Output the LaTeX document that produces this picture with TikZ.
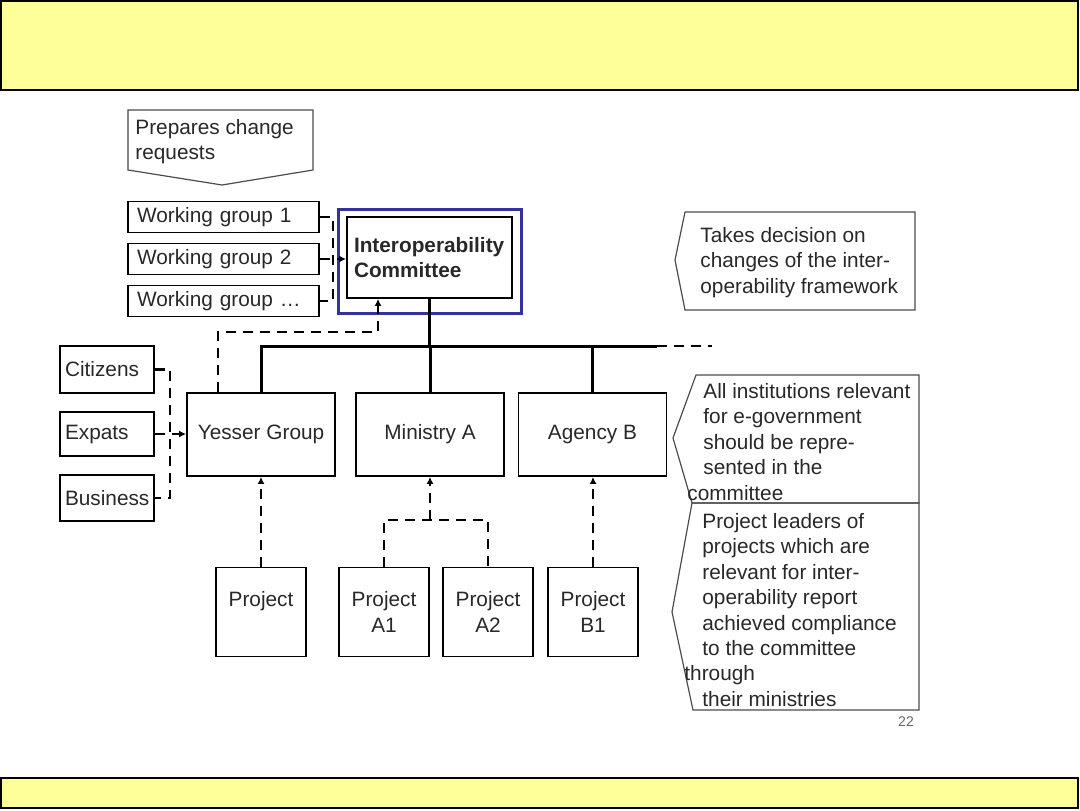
\documentclass[tikz,border=0pt]{standalone}
\usepackage{fontspec}
\setmainfont{Liberation Sans}
\usepackage{tikz}
\usetikzlibrary{arrows.meta,positioning,calc}
\definecolor{barfill}{RGB}{255,255,153}
\definecolor{hlblue}{RGB}{51,51,153}
\definecolor{txtgrey}{RGB}{40,40,40}
\tikzset{
  box/.style={draw, line width=0.9pt, inner sep=0pt, align=center},
  lbox/.style={draw, line width=0.9pt, inner ysep=0pt, align=left},
  orgline/.style={line width=1.5pt},
  dashline/.style={line width=1.4pt, dash pattern=on 5pt off 3.5pt},
  dasharrow/.style={dashline, -{Latex[length=3.5pt,width=3.5pt]}},
  callout/.style={draw=black!70, line width=0.6pt},
  note/.style={anchor=north west, inner sep=0pt, align=left}
}

\begin{document}
\begin{tikzpicture}[x=0.5pt, y=-0.5pt, every node/.style={font=\fontsize{10.4}{12.7}\selectfont, text=txtgrey}]
    \useasboundingbox (0,0) rectangle (1080,810);
    \draw[fill=barfill, line width=1pt] (1,1) rectangle (1078,90);
    \draw[fill=barfill, line width=1pt] (1,778) rectangle (1078,808);

    \draw[callout] (128,110) -- (313,110) -- (313,170) -- (222,185) -- (128,170) -- cycle;
    \node[note] (prep) at (135,119) {Prepares change\\requests};

    \node[lbox, inner xsep=4.5pt, text width=86.5pt, minimum height=15.5pt] (wg1) at (223.5,217) {Working group 1};
    \node[lbox, inner xsep=4.5pt, text width=86.5pt, minimum height=15.5pt] (wg2) at (223.5,259) {Working group 2};
    \node[lbox, inner xsep=4.5pt, text width=86.5pt, minimum height=15.5pt] (wg3) at (223.5,301) {Working group …};

    \node[lbox, inner xsep=3.5pt, text width=75.5pt, minimum height=40.5pt,
          font=\fontsize{10.4}{12.7}\selectfont\bfseries] (ic) at (429.5,257.5) {Interoperability\\Committee};
    \draw[hlblue, line width=1.5pt] (338,209) rectangle (521,313);

    \node[lbox, inner xsep=2.5pt, text width=42pt, minimum height=23.5pt] (cit) at (107,369.5) {Citizens};
    \node[lbox, inner xsep=2.5pt, text width=42pt, minimum height=22pt] (exp) at (107,434) {Expats};
    \node[lbox, inner xsep=2.5pt, text width=42pt, minimum height=23pt] (biz) at (107,498) {Business};

    \node[box, minimum width=74pt, minimum height=41.5pt] (yes) at (261,434.5) {Yesser Group};
    \node[box, minimum width=74pt, minimum height=41.5pt] (min) at (430,434.5) {Ministry A};
    \node[box, minimum width=74pt, minimum height=41.5pt] (agy) at (592.5,434.5) {Agency B};

    \node[box, minimum width=45pt, minimum height=44.5pt] (prj) at (261,612) {Project\\\mbox{}};
    \node[box, minimum width=45pt, minimum height=44.5pt] (pa1) at (384,612) {Project\\A1};
    \node[box, minimum width=45pt, minimum height=44.5pt] (pa2) at (488,612) {Project\\A2};
    \node[box, minimum width=45pt, minimum height=44.5pt] (pb1) at (593,612) {Project\\B1};

    \coordinate (wgj) at (333,259);
    \coordinate (stj) at (170,434);
    \coordinate (busL) at (261,346);
    \coordinate (busR) at (657,346);
    \coordinate (busE) at (712,346);
    \coordinate (yj) at (378,332);
    \coordinate (aj) at (430,520);

    \draw[dashline] (wg1.east) -| (wgj) |- (wg3.east);
    \draw[dasharrow] (wg2.east) -- (wg2.east -| ic.west);
    \draw[dashline] (cit.east) -| (stj) |- (biz.east);
    \draw[dasharrow] (exp.east) -- (exp.east -| yes.west);

    \draw[orgline] (ic.south) -- (ic.south |- busL);
    \draw[orgline] (yes.north) -- (busL) -- (busR);
    \draw[orgline] (min.north) -- (min.north |- busL);
    \draw[orgline] (agy.north) -- (agy.north |- busL);
    \draw[dashline] (busR) -- (busE);
    \draw[dasharrow] ([xshift=-21.5pt]yes.north) |- (yj) -- (yj |- ic.south);

    \draw[dasharrow] (prj.north) -- (yes.south);
    \draw[dashline] (pa1.north) |- (aj) -| (pa2.north);
    \draw[dasharrow] (aj) -- (min.south);
    \draw[dasharrow] (pb1.north) -- (pb1.north |- agy.south);

    \draw[callout] (685,212) -- (915,212) -- (915,310) -- (685,310) -- (675,260) -- cycle;
    \node[note] (decide) at (700,227) {Takes decision on\\changes of the inter-\\operability framework};
    \draw[callout] (696,375) -- (919,375) -- (919,503) -- (692,503) -- (673,438) -- cycle;
    \node[note] (insts) at (703,383) {All institutions relevant\\for e-government\\should be repre-\\sented in the\\\hspace*{-8pt}committee};
    \draw[callout] (692,503) -- (919,503) -- (919,710) -- (693,710) -- (672,612) -- cycle;
    \node[note] (leaders) at (702,513) {Project leaders of\\projects which are\\relevant for inter-\\operability report\\achieved compliance\\to the committee\\\hspace*{-9pt}through\\their ministries};
    \node[font=\fontsize{7}{8}\selectfont, text=black!60] (pgno) at (906,722) {22};
\end{tikzpicture}
\end{document}
